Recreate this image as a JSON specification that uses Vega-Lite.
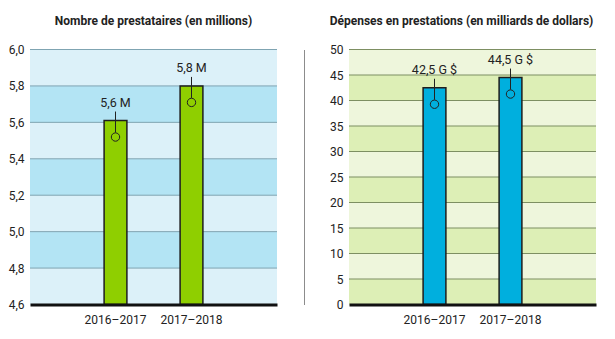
{
  "$schema": "https://vega.github.io/schema/vega-lite/v6.json",
  "background": "white",
  "padding": {"left": 8, "top": 14.5, "right": 5, "bottom": 5},
  "spacing": 26,
  "config": {
    "font": "Roboto",
    "view": {"stroke": null},
    "axis": {"labelFont": "Roboto", "labelFontSize": 12, "labelColor": "#222", "ticks": false, "domain": false, "grid": false, "title": null, "labelOverlap": false},
    "title": {"font": "Roboto", "fontSize": 12, "fontWeight": "bold", "color": "#222", "anchor": "middle", "offset": 15.5}
  },
  "resolve": {"scale": {"color": "independent"}},
  "datasets": {
    "left_bands": [
      {"lo": 4.6, "hi": 4.8, "shade": "a"},
      {"lo": 4.8, "hi": 5.0, "shade": "b"},
      {"lo": 5.0, "hi": 5.2, "shade": "a"},
      {"lo": 5.2, "hi": 5.4, "shade": "b"},
      {"lo": 5.4, "hi": 5.6, "shade": "a"},
      {"lo": 5.6, "hi": 5.8, "shade": "b"},
      {"lo": 5.8, "hi": 6.0, "shade": "a"}
    ],
    "right_bands": [
      {"lo": 0, "hi": 5, "shade": "b"},
      {"lo": 5, "hi": 10, "shade": "a"},
      {"lo": 10, "hi": 15, "shade": "b"},
      {"lo": 15, "hi": 20, "shade": "a"},
      {"lo": 20, "hi": 25, "shade": "b"},
      {"lo": 25, "hi": 30, "shade": "a"},
      {"lo": 30, "hi": 35, "shade": "b"},
      {"lo": 35, "hi": 40, "shade": "a"},
      {"lo": 40, "hi": 45, "shade": "b"},
      {"lo": 45, "hi": 50, "shade": "a"}
    ],
    "left_bars": [
      {"year": "2016–2017", "value": 5.61, "label": "5,6 M"},
      {"year": "2017–2018", "value": 5.8, "label": "5,8 M"}
    ],
    "right_bars": [
      {"year": "2016–2017", "value": 42.5, "label": "42,5 G $"},
      {"year": "2017–2018", "value": 44.5, "label": "44,5 G $"}
    ]
  },
  "hconcat": [
    {
      "width": 247,
      "height": 255,
      "title": {"text": "Nombre de prestataires (en millions)"},
      "layer": [
        {
          "data": {"name": "left_bands"},
          "mark": {"type": "rect"},
          "encoding": {
            "y": {"field": "lo", "type": "quantitative", "scale": {"domain": [4.6, 6.0], "nice": false, "zero": false},
                  "axis": {"values": [4.6, 4.8, 5.0, 5.2, 5.4, 5.6, 5.8, 6.0], "labelExpr": "replace(format(datum.value, '.1f'), '.', ',')", "labelPadding": 6, "labelOverlap": false}},
            "y2": {"field": "hi"},
            "color": {"field": "shade", "type": "nominal", "scale": {"domain": ["a", "b"], "range": ["#dcf1f9", "#b3e4f4"]}, "legend": null}
          }
        },
        {
          "data": {"name": "left_bands"},
          "mark": {"type": "rule", "color": "#7fa4b2", "strokeWidth": 1},
          "encoding": {"y": {"field": "hi", "type": "quantitative",
                  "axis": {"values": [4.6, 4.8, 5.0, 5.2, 5.4, 5.6, 5.8, 6.0], "labelExpr": "replace(format(datum.value, '.1f'), '.', ',')", "labelPadding": 6, "labelOverlap": false}}}
        },
        {
          "data": {"name": "left_bars"},
          "mark": {"type": "bar", "color": "#8fcf00", "stroke": "#1e1e1e", "strokeWidth": 1.5},
          "encoding": {
            "x": {"field": "year", "type": "nominal", "scale": {"paddingInner": 0.7, "paddingOuter": 0.975},
                  "axis": {"labelAngle": 0, "labelPadding": 10, "domain": true, "domainColor": "#111", "domainWidth": 3, "zindex": 1}},
            "y": {"field": "value", "type": "quantitative", "scale": {"domain": [4.6, 6.0], "nice": false, "zero": false},
                  "axis": {"values": [4.6, 4.8, 5.0, 5.2, 5.4, 5.6, 5.8, 6.0], "labelExpr": "replace(format(datum.value, '.1f'), '.', ',')", "labelPadding": 6, "labelOverlap": false}},
            "y2": {"datum": 4.6}
          }
        },
        {
          "data": {"name": "left_bars"},
          "mark": {"type": "rule", "color": "#222", "strokeWidth": 1, "yOffset": -9, "y2Offset": 12},
          "encoding": {
            "x": {"field": "year", "type": "nominal"},
            "y": {"field": "value", "type": "quantitative",
                  "axis": {"values": [4.6, 4.8, 5.0, 5.2, 5.4, 5.6, 5.8, 6.0], "labelExpr": "replace(format(datum.value, '.1f'), '.', ',')", "labelPadding": 6, "labelOverlap": false}},
            "y2": {"field": "value"}
          }
        },
        {
          "data": {"name": "left_bars"},
          "mark": {"type": "point", "shape": "circle", "size": 70, "filled": false, "stroke": "#222", "strokeWidth": 1, "opacity": 1, "yOffset": 16.5},
          "encoding": {
            "x": {"field": "year", "type": "nominal"},
            "y": {"field": "value", "type": "quantitative",
                  "axis": {"values": [4.6, 4.8, 5.0, 5.2, 5.4, 5.6, 5.8, 6.0], "labelExpr": "replace(format(datum.value, '.1f'), '.', ',')", "labelPadding": 6, "labelOverlap": false}}
          }
        },
        {
          "data": {"name": "left_bars"},
          "mark": {"type": "text", "fontSize": 12.5, "color": "#222", "baseline": "middle", "yOffset": -18},
          "encoding": {
            "x": {"field": "year", "type": "nominal"},
            "y": {"field": "value", "type": "quantitative",
                  "axis": {"values": [4.6, 4.8, 5.0, 5.2, 5.4, 5.6, 5.8, 6.0], "labelExpr": "replace(format(datum.value, '.1f'), '.', ',')", "labelPadding": 6, "labelOverlap": false}},
            "text": {"field": "label"}
          }
        }
      ]
    },
    {
      "width": 247,
      "height": 255,
      "title": {"text": "Dépenses en prestations (en milliards de dollars)", "dx": -11},
      "layer": [
        {
          "data": {"name": "right_bands"},
          "mark": {"type": "rect"},
          "encoding": {
            "y": {"field": "lo", "type": "quantitative", "scale": {"domain": [0, 50], "nice": false},
                  "axis": {"values": [0, 5, 10, 15, 20, 25, 30, 35, 40, 45, 50], "labelOverlap": false, "offset": 45, "labelPadding": -39, "domain": true, "domainColor": "#8c8c8c", "domainWidth": 1}},
            "y2": {"field": "hi"},
            "color": {"field": "shade", "type": "nominal", "scale": {"domain": ["a", "b"], "range": ["#eef6dc", "#ddefb6"]}, "legend": null}
          }
        },
        {
          "data": {"name": "right_bands"},
          "mark": {"type": "rule", "color": "#7d8f62", "strokeWidth": 1},
          "encoding": {"y": {"field": "hi", "type": "quantitative",
                  "axis": {"values": [0, 5, 10, 15, 20, 25, 30, 35, 40, 45, 50], "labelOverlap": false, "offset": 45, "labelPadding": -39, "domain": true, "domainColor": "#8c8c8c", "domainWidth": 1}}}
        },
        {
          "data": {"name": "right_bars"},
          "mark": {"type": "bar", "color": "#00afde", "stroke": "#1e1e1e", "strokeWidth": 1.5},
          "encoding": {
            "x": {"field": "year", "type": "nominal", "scale": {"paddingInner": 0.7, "paddingOuter": 0.975},
                  "axis": {"labelAngle": 0, "labelPadding": 10, "domain": true, "domainColor": "#111", "domainWidth": 3, "zindex": 1}},
            "y": {"field": "value", "type": "quantitative", "scale": {"domain": [0, 50], "nice": false},
                  "axis": {"values": [0, 5, 10, 15, 20, 25, 30, 35, 40, 45, 50], "labelOverlap": false, "offset": 45, "labelPadding": -39, "domain": true, "domainColor": "#8c8c8c", "domainWidth": 1}},
            "y2": {"datum": 0}
          }
        },
        {
          "data": {"name": "right_bars"},
          "mark": {"type": "rule", "color": "#222", "strokeWidth": 1, "yOffset": -9, "y2Offset": 12},
          "encoding": {
            "x": {"field": "year", "type": "nominal"},
            "y": {"field": "value", "type": "quantitative",
                  "axis": {"values": [0, 5, 10, 15, 20, 25, 30, 35, 40, 45, 50], "labelOverlap": false, "offset": 45, "labelPadding": -39, "domain": true, "domainColor": "#8c8c8c", "domainWidth": 1}},
            "y2": {"field": "value"}
          }
        },
        {
          "data": {"name": "right_bars"},
          "mark": {"type": "point", "shape": "circle", "size": 70, "filled": false, "stroke": "#222", "strokeWidth": 1, "opacity": 1, "yOffset": 16.5},
          "encoding": {
            "x": {"field": "year", "type": "nominal"},
            "y": {"field": "value", "type": "quantitative",
                  "axis": {"values": [0, 5, 10, 15, 20, 25, 30, 35, 40, 45, 50], "labelOverlap": false, "offset": 45, "labelPadding": -39, "domain": true, "domainColor": "#8c8c8c", "domainWidth": 1}}
          }
        },
        {
          "data": {"name": "right_bars"},
          "mark": {"type": "text", "fontSize": 12.5, "color": "#222", "baseline": "middle", "yOffset": -18},
          "encoding": {
            "x": {"field": "year", "type": "nominal"},
            "y": {"field": "value", "type": "quantitative",
                  "axis": {"values": [0, 5, 10, 15, 20, 25, 30, 35, 40, 45, 50], "labelOverlap": false, "offset": 45, "labelPadding": -39, "domain": true, "domainColor": "#8c8c8c", "domainWidth": 1}},
            "text": {"field": "label"}
          }
        }
      ]
    }
  ]
}
